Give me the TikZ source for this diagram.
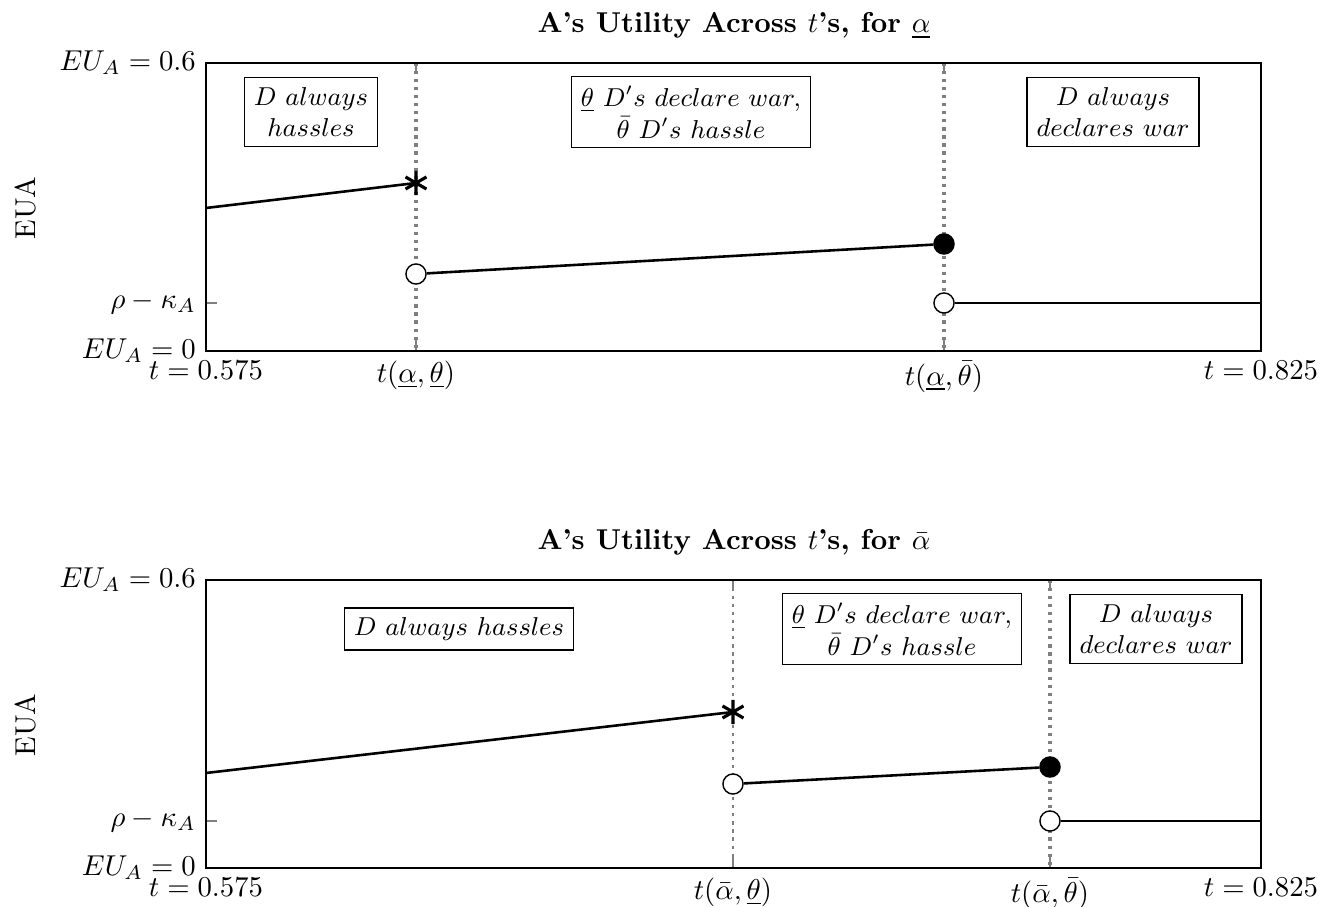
\documentclass[tikz,border=0pt]{standalone}
\usepackage{amsmath,amsfonts,amssymb}
\usepackage{xcolor}
\usetikzlibrary{calc}
\tikzset{
	dot/.style={circle, draw, line width=0.5pt, inner sep=0pt, minimum size=7pt},
	hollow/.style={dot, fill=white},
	filled/.style={dot, fill=black},
	regime/.style={draw, line width=0.5pt, fill=white, font=\small, align=center, inner sep=3.3pt},
	cutoff/.style={gray, line width=1.3pt, dash pattern=on 1.1pt off 1.7pt},
	payoff/.style={line width=0.9pt},
	tickmark/.style={gray, line width=0.4pt},
	ast/.pic={\draw[line width=1.1pt] (90:4.2pt) -- (270:4.2pt) (30:4.2pt) -- (210:4.2pt) (150:4.2pt) -- (330:4.2pt);}
}

\begin{document}
\begin{tikzpicture}[x=0.348pt, y=-0.348pt]
	\useasboundingbox (0,0) rectangle (1322,907);

	% ---- for underline alpha ----
	\node[anchor=base] (title1) at (734,33) {\textbf{A's Utility Across $t$'s, for $\underline{\alpha}$}};
	\node[rotate=90] (ylab1) at (26,208) {EUA};
	\draw[cutoff] (416,63) -- (416,351);
	\draw[cutoff] (944,63) -- (944,351);
	\foreach \x in {416,944}{
		\draw[tickmark] (\x,351) -- (\x,340) (\x,63) -- (\x,74);
	}
	\draw[tickmark] (206,303) -- (217,303);
	\draw[line width=0.5pt] (206,63) rectangle (1261,351);
	\node[anchor=east] (top1) at (206,63) {$EU_A = 0.6$};
	\node[anchor=east] (rho1) at (206,303) {$\rho - \kappa_A$};
	\node[anchor=east] (bot1) at (206,351) {$EU_A = 0$};
	\node[anchor=north] (tl1) at (206,351) {$t = 0.575$};
	\node[anchor=north] (tu1) at (416,351) {$t(\underline{\alpha},\underline{\theta})$};
	\node[anchor=north] (tb1) at (944,351) {$t(\underline{\alpha},\bar{\theta})$};
	\node[anchor=north] (tr1) at (1261,351) {$t = 0.825$};

	\coordinate (a1) at (206,208);
	\coordinate (s1) at (416,183);
	\coordinate (e1) at (1261,303);
	\node[hollow] (o1) at (416,274) {};
	\node[filled] (f1) at (944,244) {};
	\node[hollow] (o2) at (944,303) {};
	\draw[payoff] (a1) -- (s1);
	\draw[payoff] (o1) -- (f1);
	\draw[payoff] (o2) -- (e1);
	\pic at (s1) {ast};

	\node[regime] (r11) at (311,112) {$D\ always$\\$hassles$};
	\node[regime] (r12) at (691,112) {$\underline{\theta}\ D's\ declare\ war,$\\$\bar{\theta}\ D's\ hassle$};
	\node[regime] (r13) at (1113,112) {$D\ always$\\$declares\ war$};

	% ---- for bar alpha ----
	\node[anchor=base] (title2) at (734,550) {\textbf{A's Utility Across $t$'s, for $\bar{\alpha}$}};
	\node[rotate=90] (ylab2) at (26,725) {EUA};
	\draw[cutoff, line width=0.9pt] (733,580) -- (733,868);
	\draw[cutoff] (1050,580) -- (1050,868);
	\foreach \x in {733,1050}{
		\draw[tickmark] (\x,868) -- (\x,857) (\x,580) -- (\x,591);
	}
	\draw[tickmark] (206,821) -- (217,821);
	\draw[line width=0.5pt] (206,580) rectangle (1261,868);
	\node[anchor=east] (top2) at (206,580) {$EU_A = 0.6$};
	\node[anchor=east] (rho2) at (206,821) {$\rho - \kappa_A$};
	\node[anchor=east] (bot2) at (206,868) {$EU_A = 0$};
	\node[anchor=north] (tl2) at (206,868) {$t = 0.575$};
	\node[anchor=north] (tu2) at (733,868) {$t(\bar{\alpha},\underline{\theta})$};
	\node[anchor=north] (tb2) at (1050,868) {$t(\bar{\alpha},\bar{\theta})$};
	\node[anchor=north] (tr2) at (1261,868) {$t = 0.825$};

	\coordinate (a2) at (206,773);
	\coordinate (s2) at (733,712);
	\coordinate (e2) at (1261,821);
	\node[hollow] (o3) at (733,784) {};
	\node[filled] (f2) at (1050,767) {};
	\node[hollow] (o4) at (1050,821) {};
	\draw[payoff] (a2) -- (s2);
	\draw[payoff] (o3) -- (f2);
	\draw[payoff] (o4) -- (e2);
	\pic at (s2) {ast};

	\node[regime] (r21) at (459,629) {$D\ always\ hassles$};
	\node[regime] (r22) at (902,629) {$\underline{\theta}\ D's\ declare\ war,$\\$\bar{\theta}\ D's\ hassle$};
	\node[regime] (r23) at (1156,629) {$D\ always$\\$declares\ war$};
\end{tikzpicture}
\end{document}
